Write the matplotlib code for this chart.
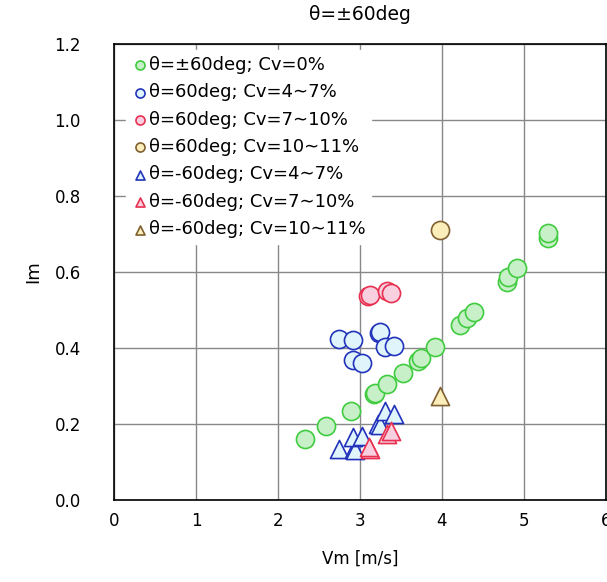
import matplotlib
matplotlib.use('Agg')
import matplotlib.pyplot as plt

# theta = +-60 deg, Cv = 0%
green_x = [2.33, 2.59, 2.89, 3.17, 3.18, 3.33, 3.53, 3.71, 3.75, 3.91,
           4.22, 4.31, 4.39, 4.80, 4.81, 4.92, 5.30, 5.30]
green_y = [0.159, 0.194, 0.233, 0.278, 0.281, 0.304, 0.335, 0.366, 0.374, 0.401,
           0.460, 0.478, 0.495, 0.574, 0.585, 0.610, 0.689, 0.702]

# theta = 60 deg
c_blue_x = [2.75, 2.92, 3.23, 3.24, 2.91, 3.02, 3.30, 3.41]
c_blue_y = [0.422, 0.420, 0.438, 0.442, 0.367, 0.361, 0.403, 0.405]
c_red_x = [3.10, 3.12, 3.33, 3.38]
c_red_y = [0.536, 0.540, 0.550, 0.544]
c_brown_x = [3.98]
c_brown_y = [0.711]

# theta = -60 deg
t_blue_x = [2.75, 2.93, 2.94, 2.91, 3.02, 3.22, 3.24, 3.30, 3.41]
t_blue_y = [0.134, 0.134, 0.131, 0.165, 0.169, 0.200, 0.196, 0.233, 0.226]
t_red_x = [3.12, 3.11, 3.33, 3.38]
t_red_y = [0.134, 0.138, 0.174, 0.181]
t_brown_x = [3.98]
t_brown_y = [0.273]

fig = plt.figure(figsize=(6.07, 5.82), dpi=100)
ax = fig.add_axes([0.188, 0.141, 0.81, 0.784])

ms = 170
lw = 1.2
ax.scatter(green_x, green_y, s=ms, marker='o', facecolor='#c8f0c8', edgecolor='#3fcc3f', lw=lw,
           label='θ=±60deg; Cv=0%', zorder=3)
ax.scatter(c_blue_x, c_blue_y, s=ms, marker='o', facecolor='#e0f4fb', edgecolor='#2233bb', lw=lw,
           label='θ=60deg; Cv=4∼7%', zorder=3)
ax.scatter(c_red_x, c_red_y, s=ms, marker='o', facecolor='#f8d0e0', edgecolor='#e83050', lw=lw,
           label='θ=60deg; Cv=7∼10%', zorder=3)
ax.scatter(c_brown_x, c_brown_y, s=ms, marker='o', facecolor='#fbeebb', edgecolor='#806030', lw=lw,
           label='θ=60deg; Cv=10∼11%', zorder=3)
ax.scatter(t_blue_x, t_blue_y, s=ms, marker='^', facecolor='#e0f4fb', edgecolor='#2233bb', lw=lw,
           label='θ=-60deg; Cv=4∼7%', zorder=3)
ax.scatter(t_red_x, t_red_y, s=ms, marker='^', facecolor='#f8d0e0', edgecolor='#e83050', lw=lw,
           label='θ=-60deg; Cv=7∼10%', zorder=3)
ax.scatter(t_brown_x, t_brown_y, s=ms, marker='^', facecolor='#fbeebb', edgecolor='#806030', lw=lw,
           label='θ=-60deg; Cv=10∼11%', zorder=3)

ax.set_xlim(0, 6)
ax.set_ylim(0, 1.2)
ax.set_xticks(range(0, 7))
ax.set_yticks([0.0, 0.2, 0.4, 0.6, 0.8, 1.0, 1.2])
ax.set_yticklabels(['0.0', '0.2', '0.4', '0.6', '0.8', '1.0', '1.2'])
ax.tick_params(axis='x', labelsize=12, length=0, pad=9)
ax.tick_params(axis='y', labelsize=12, length=0, pad=24)
ax.grid(True, color='#888888', lw=1)
ax.set_axisbelow(True)
for s in ax.spines.values():
    s.set_color('black')
    s.set_linewidth(1.2)

ax.set_title('θ=±60deg', fontsize=13.5, pad=17)
ax.set_xlabel('Vm [m/s]', fontsize=12, labelpad=14)
ax.set_ylabel('Im', fontsize=13, labelpad=9)

leg = ax.legend(loc='upper left', bbox_to_anchor=(0.025, 0.985), fontsize=13, markerscale=0.5,
                handletextpad=0.05, labelspacing=0.52, borderaxespad=0.0, frameon=True,
                fancybox=False, handlelength=0.9, borderpad=0.3)
leg.get_frame().set_edgecolor('white')
leg.get_frame().set_alpha(1.0)

fig.savefig('out.png', dpi=100)
